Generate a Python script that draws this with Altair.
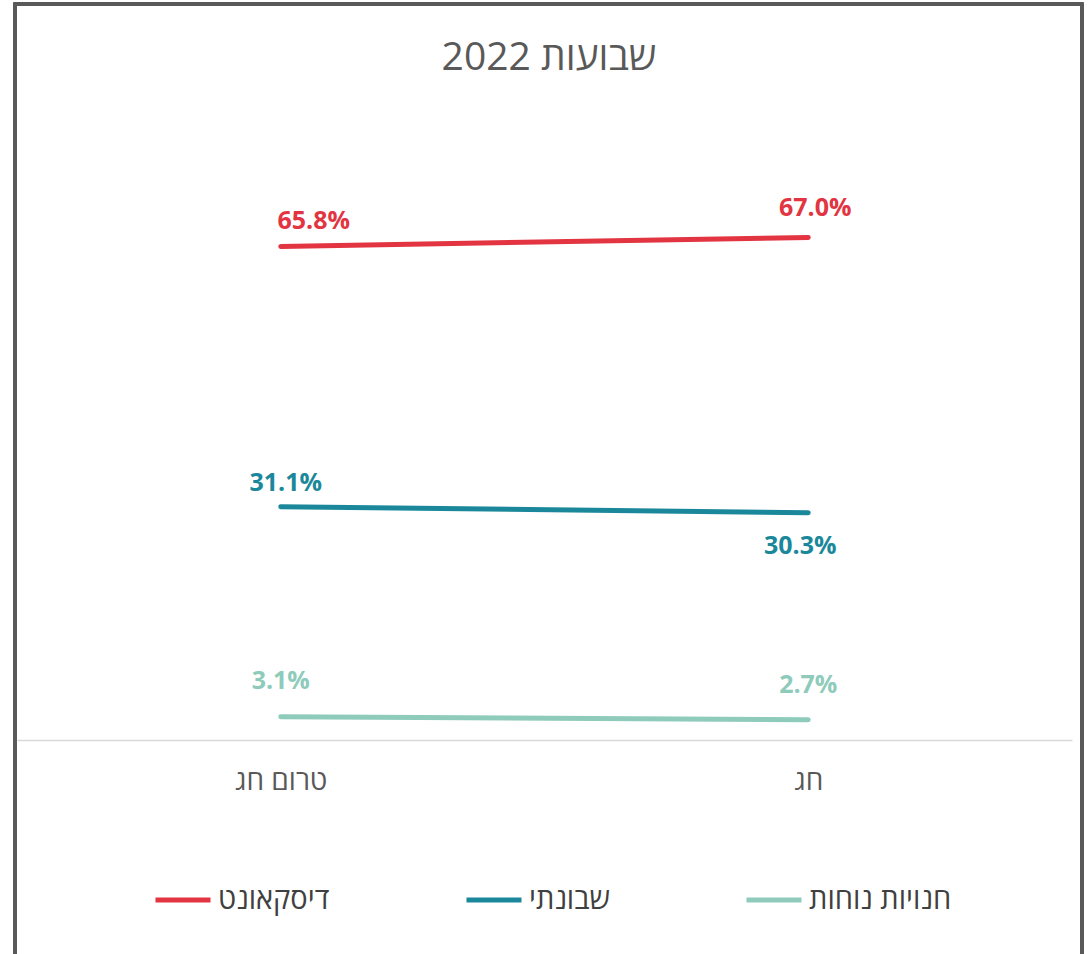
import altair as alt
import pandas as pd

# Share of purchases by store format, before the holiday and during it
categories = ["טרום חג", "חג"]
series = ["דיסקאונט", "שבונתי", "חנויות נוחות"]
discount = [65.8, 67.0]
shchunati = [31.1, 30.3]
convenience = [3.1, 2.7]
colors = ["#E23441", "#1A889A", "#8ECBBB"]
title_text = "שבועות 2022"

values = {series[0]: discount, series[1]: shchunati, series[2]: convenience}
rows = []
for s in series:
    for c, v in zip(categories, values[s]):
        rows.append({"period": c, "format": s, "share": v, "label": f"{v:.1f}%"})
df = pd.DataFrame(rows)

# label placement (dx, dy in pixels) for each series/period
label_offsets = {
    (series[0], categories[0]): (33, -26),
    (series[0], categories[1]): (7, -30),
    (series[1], categories[0]): (5, -24),
    (series[1], categories[1]): (-8, 33),
    (series[2], categories[0]): (0, -36),
    (series[2], categories[1]): (0, -35),
}

FONT = "Open Sans"
W, H = 1055, 600

x_enc = alt.X("period:N", sort=categories,
              scale=alt.Scale(type="point", padding=0.5),
              axis=alt.Axis(title=None, ticks=False, tickSize=0, labelPadding=41,
                            labelBaseline="middle", labelFontSize=28,
                            labelColor="#595959", labelFont=FONT,
                            domainColor="#D9D9D9", domainWidth=1.5, labelAngle=0))
y_enc = alt.Y("share:Q", scale=alt.Scale(domain=[0, 80]), axis=None)
color_enc = alt.Color("format:N",
                      scale=alt.Scale(domain=series, range=colors),
                      legend=alt.Legend(title=None, orient="none", direction="horizontal",
                                        columns=3, legendX=136, legendY=730,
                                        symbolType="stroke", symbolSize=3025,
                                        symbolStrokeWidth=5, labelFontSize=29,
                                        labelFont=FONT, labelColor="#404040",
                                        labelOffset=5, columnPadding=126))

base = alt.Chart(df)

# frame around the whole figure
frame = base.mark_rect(fill=None, stroke="#595959", strokeWidth=3).encode(
    x=alt.value(-2), x2=alt.value(1065), y=alt.value(-136), y2=alt.value(830)
)

# chart heading, centred over the figure
heading = alt.Chart(pd.DataFrame({"t": [title_text]})).mark_text(
    fontSize=39, font=FONT, color="#595959", align="center", baseline="middle"
).encode(text="t:N", x=alt.value(532), y=alt.value(-82))

lines = base.mark_line(strokeWidth=5, strokeCap="round").encode(
    x=x_enc, y=y_enc, color=color_enc, detail="format:N"
)

label_layers = []
for (s, c), (dx, dy) in label_offsets.items():
    label_layers.append(
        base.transform_filter((alt.datum.format == s) & (alt.datum.period == c))
        .mark_text(fontSize=25, fontWeight="bold", font=FONT, dx=dx, dy=dy,
                   baseline="middle", align="center")
        .encode(x=alt.X("period:N", sort=categories), y="share:Q",
                text="label:N",
                color=alt.Color("format:N", scale=alt.Scale(domain=series, range=colors),
                                legend=None))
    )

chart = alt.layer(frame, heading, lines, *label_layers).properties(
    width=W, height=H,
    background="white",
    padding={"left": 17, "top": 140, "right": 16, "bottom": 214},
    autosize=alt.AutoSizeParams(type="none"),
).configure_view(stroke=None)

chart.save("out.html", embed_options={"renderer": "svg", "actions": False})
